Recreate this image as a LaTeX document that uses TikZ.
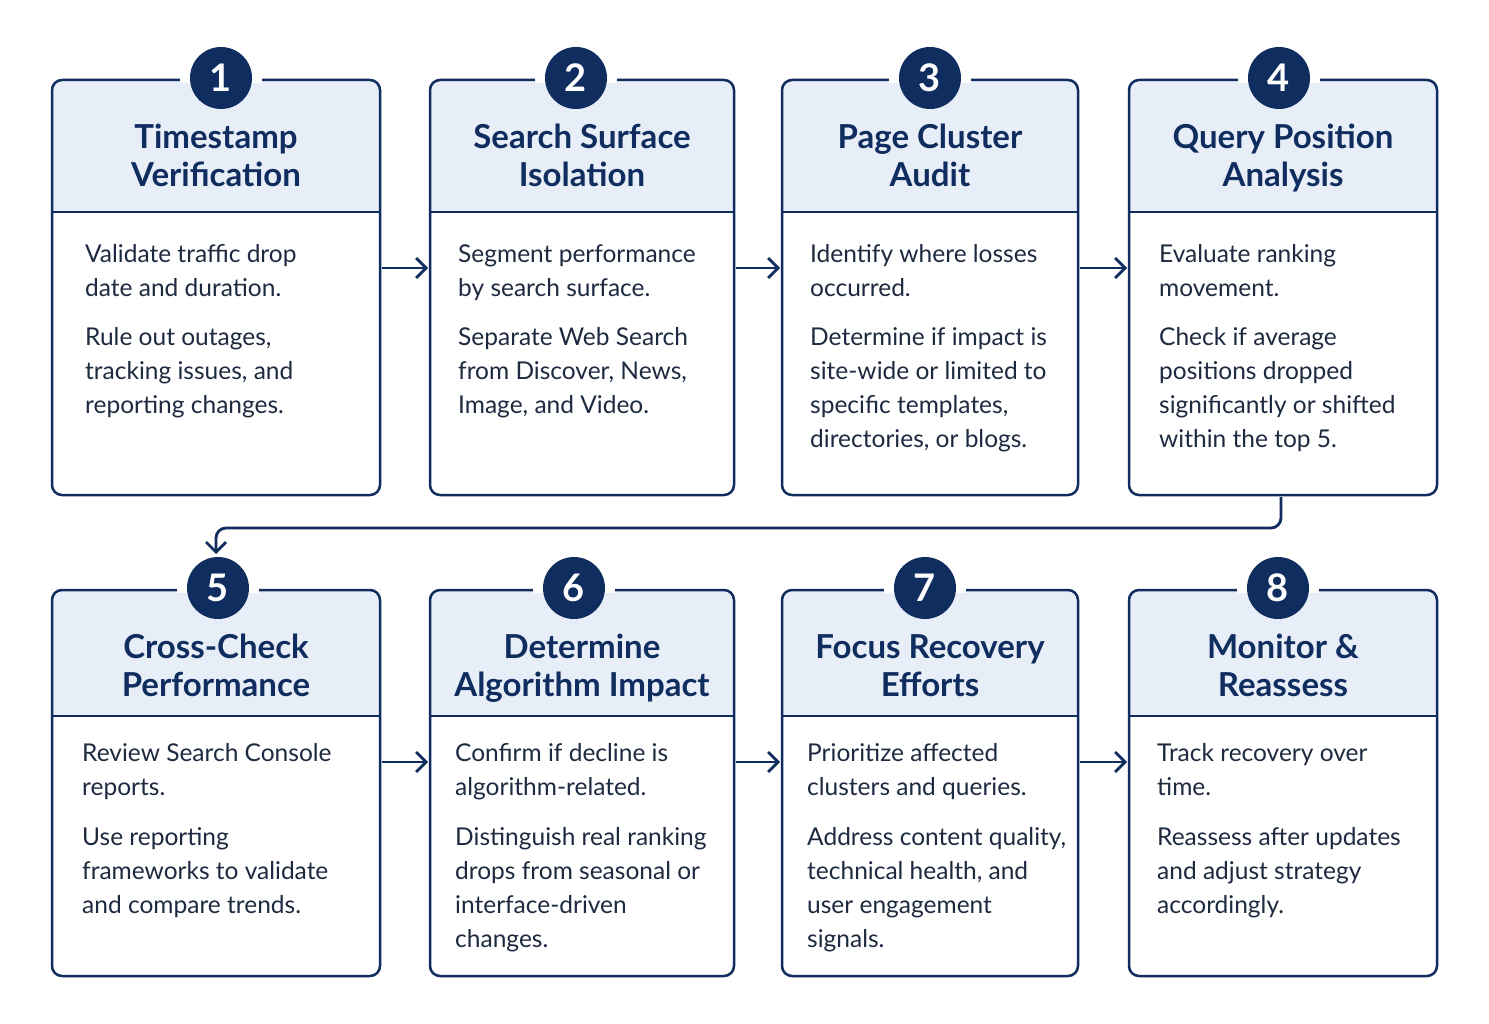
\documentclass[tikz,border=0pt]{standalone}
\usepackage{fontspec}
\setmainfont{Lato}
\usetikzlibrary{arrows.meta}
\definecolor{navy}{HTML}{0F2D5E}
\definecolor{hdr}{HTML}{E8EEF8}
\definecolor{bodyc}{HTML}{1E2A40}
\begin{document}
\begin{tikzpicture}[x=1pt,y=-1pt,
  box/.style={draw=navy,line width=2.5pt,rounded corners=10pt},
  num/.style={circle,fill=navy,minimum size=62pt,inner sep=0pt,text=white,font=\fontsize{38}{38}\selectfont\bfseries},
  ttl/.style={align=center,text=navy,text height=24pt,text depth=7pt,font=\fontsize{33}{38}\selectfont\bfseries},
  txt/.style={anchor=north west,align=left,inner sep=0pt,text=bodyc,font=\fontsize{24.5}{34}\selectfont},
  arr/.style={draw=navy,line width=2.8pt,-{Straight Barb[length=10pt,width=20pt]}}]
\useasboundingbox (0,0) rectangle (1489,1024);
\fill[white] (0,0) rectangle (1489,1024);
\newcommand\mybox[9]{%
  \begin{scope}
  \clip[rounded corners=10pt] (#2,#4) rectangle (#3,#6);
  \fill[hdr] (#2,#4) rectangle (#3,#5);
  \end{scope}
  \draw[navy,line width=2.5pt] (#2,#5) -- (#3,#5);
  \draw[box] (#2,#4) rectangle (#3,#6);
  \node[fill=white,minimum width=82pt,minimum height=6pt,inner sep=0pt] at (#8,#4) {};
  \node[num] (#1n) at (#8,#4-2) {#7};
  \node[ttl] (#1t) at ({(#2+#3)/2},{#4+98}) {#9};
}
\mybox{a}{52}{380}{80}{212}{495}{1}{221}{Timestamp\\Verification}
\mybox{b}{430}{734}{80}{212}{495}{2}{576}{Search Surface\\Isolation}
\mybox{c}{782}{1078}{80}{212}{495}{3}{930}{Page Cluster\\Audit}
\mybox{d}{1129}{1437}{80}{212}{495}{4}{1279}{Query Position\\Analysis}
\mybox{e}{52}{380}{590}{716}{976}{5}{218}{Cross-Check\\Performance}
\mybox{f}{430}{734}{590}{716}{976}{6}{574}{Determine\\Algorithm Impact}
\mybox{g}{782}{1078}{590}{716}{976}{7}{925}{Focus Recovery\\Efforts}
\mybox{h}{1129}{1437}{590}{716}{976}{8}{1278}{Monitor \&\\Reassess}
\node[txt] (a1) at (85,244) {Validate traffic drop\\date and duration.};
\node[txt] (a2) at (85,327) {Rule out outages,\\tracking issues, and\\reporting changes.};
\node[txt] (b1) at (458,244) {Segment performance\\by search surface.};
\node[txt] (b2) at (458,327) {Separate Web Search\\from Discover, News,\\Image, and Video.};
\node[txt] (c1) at (810,244) {Identify where losses\\occurred.};
\node[txt] (c2) at (810,327) {Determine if impact is\\site-wide or limited to\\specific templates,\\directories, or blogs.};
\node[txt] (d1) at (1159,244) {Evaluate ranking\\movement.};
\node[txt] (d2) at (1159,327) {Check if average\\positions dropped\\significantly or shifted\\within the top 5.};
\node[txt] (e1) at (82,743) {Review Search Console\\reports.};
\node[txt] (e2) at (82,827) {Use reporting\\frameworks to validate\\and compare trends.};
\node[txt] (f1) at (455,743) {Confirm if decline is\\algorithm-related.};
\node[txt] (f2) at (455,827) {Distinguish real ranking\\drops from seasonal or\\interface-driven\\changes.};
\node[txt] (g1) at (807,743) {Prioritize affected\\clusters and queries.};
\node[txt] (g2) at (807,827) {Address content quality,\\technical health, and\\user engagement\\signals.};
\node[txt] (h1) at (1157,743) {Track recovery over\\time.};
\node[txt] (h2) at (1157,827) {Reassess after updates\\and adjust strategy\\accordingly.};
\coordinate (ar) at (382,268); \coordinate (br) at (428,268);
\draw[arr] (ar) -- (br);
\coordinate (ar2) at (736,268); \coordinate (cr) at (780,268);
\draw[arr] (ar2) -- (cr);
\coordinate (ar3) at (1080,268); \coordinate (dr) at (1127,268);
\draw[arr] (ar3) -- (dr);
\coordinate (e5) at (382,762); \coordinate (f5) at (428,762);
\draw[arr] (e5) -- (f5);
\coordinate (f6) at (736,762); \coordinate (g6) at (780,762);
\draw[arr] (f6) -- (g6);
\coordinate (g7) at (1080,762); \coordinate (h7) at (1127,762);
\draw[arr] (g7) -- (h7);
\coordinate (dd) at (1281,497); \coordinate (en) at (216,554);
\draw[arr,rounded corners=10pt] (dd) -- (1281,528) -- (216,528) -- (en);
\end{tikzpicture}
\end{document}
